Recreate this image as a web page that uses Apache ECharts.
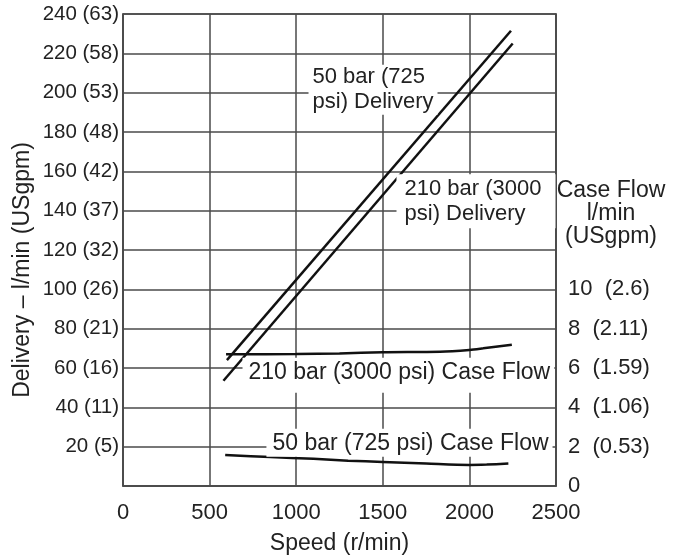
<!DOCTYPE html>
<html>
<head>
<meta charset="utf-8">
<script src="https://cdn.jsdelivr.net/npm/echarts@6/dist/echarts.min.js"></script>
<style>html,body{margin:0;padding:0;background:#fff}#c{width:680px;height:560px}</style>
</head>
<body>
<div id="c"></div>
<script>
// ---- data ----
const speedTicks = [0, 500, 1000, 1500, 2000, 2500];
const leftTickLabels = ['', '20 (5)', '40 (11)', '60 (16)', '80 (21)', '100 (26)', '120 (32)', '140 (37)', '160 (42)', '180 (48)', '200 (53)', '220 (58)', '240 (63)'];
const rightTickLabels = ['0', '2  (0.53)', '4  (1.06)', '6  (1.59)', '8  (2.11)', '10  (2.6)'];

const delivery50Speed = [600, 2240];
const delivery50 = [64, 231.5];
const delivery210Speed = [580, 2250];
const delivery210 = [53.5, 225];

const caseFlow210Speed = [595, 1000, 1250, 1500, 1830, 2000, 2080, 2245];
const caseFlow210 = [6.70, 6.71, 6.74, 6.80, 6.83, 6.92, 7.00, 7.18];
const caseFlow50Speed = [590, 850, 1100, 1300, 1500, 1750, 2000, 2100, 2225];
const caseFlow50 = [1.58, 1.47, 1.38, 1.29, 1.22, 1.14, 1.07, 1.09, 1.14];

const labelTexts = ['50 bar (725\npsi) Delivery', '210 bar (3000\npsi) Delivery', '210 bar (3000 psi) Case Flow', '50 bar (725 psi) Case Flow'];
const leftAxisName = 'Delivery – l/min (USgpm)';
const rightAxisName = 'Case Flow\nl/min\n(USgpm)';
const xAxisName = 'Speed (r/min)';

// ---- chart ----
const FONT = 'Liberation Sans, Arial, sans-serif';
const TXT = '#222';
const GRID = '#4a4a4a';
const zip = (xs, ys) => xs.map((x, i) => [x, ys[i]]);

const chart = echarts.init(document.getElementById('c'), null, {renderer: 'canvas'});

function annot(text, coord, padding, lh, fs) {
  return {
    coord: coord,
    symbol: 'rect', symbolSize: 1,
    itemStyle: {color: 'rgba(0,0,0,0)'},
    label: {
      show: true, position: [0, 0], align: 'left', verticalAlign: 'top',
      formatter: text, fontSize: fs, lineHeight: lh, fontFamily: FONT, color: TXT,
      backgroundColor: '#fff', padding: padding, textBorderWidth: 0
    }
  };
}

const lineStyle = {color: '#111', width: 2.5};

chart.setOption({
  animation: false,
  backgroundColor: '#fff',
  grid: {left: 123, right: 124, top: 14, bottom: 73, show: true, borderColor: GRID, borderWidth: 1.5},
  xAxis: {
    type: 'value', min: 0, max: 2500, interval: 500,
    axisLine: {show: true, onZero: false, lineStyle: {color: GRID, width: 1.5}},
    axisTick: {show: false},
    splitLine: {show: true, lineStyle: {color: GRID, width: 1.5}},
    axisLabel: {fontSize: 22, color: TXT, fontFamily: FONT, margin: 16,
      formatter: v => String(speedTicks[speedTicks.indexOf(v)])},
    name: xAxisName, nameLocation: 'middle', nameGap: 46,
    nameTextStyle: {fontSize: 23, color: TXT, fontFamily: FONT}
  },
  yAxis: [{
    type: 'value', min: 0, max: 240, interval: 20, position: 'left',
    axisLine: {show: true, lineStyle: {color: GRID, width: 1.5}},
    axisTick: {show: false},
    splitLine: {show: true, lineStyle: {color: GRID, width: 1.5}},
    axisLabel: {fontSize: 20.5, color: TXT, fontFamily: FONT, margin: 4,
      formatter: v => leftTickLabels[Math.round(v / 20)]}
  }, {
    type: 'value', min: 0, max: 24, interval: 2, position: 'right',
    axisLine: {show: true, lineStyle: {color: GRID, width: 1.5}},
    axisTick: {show: false},
    splitLine: {show: false},
    axisLabel: {fontSize: 22, color: TXT, fontFamily: FONT, margin: 12,
      formatter: v => (v <= 10 ? rightTickLabels[Math.round(v / 2)] : '')}
  }],
  graphic: [{
    type: 'text', x: 23, y: 270, rotation: Math.PI / 2,
    style: {text: leftAxisName, fontSize: 23, fontFamily: FONT, fill: TXT, align: 'center', verticalAlign: 'middle'}
  }, {
    type: 'text', x: 611, y: 179,
    style: {text: rightAxisName, fontSize: 23, lineHeight: 23, fontFamily: FONT, fill: TXT, align: 'center', verticalAlign: 'top'}
  }],
  series: [{
    type: 'line', name: '50 bar Delivery', data: zip(delivery50Speed, delivery50),
    yAxisIndex: 0, symbol: 'none', lineStyle: lineStyle,
    markPoint: {
      silent: true, animation: false,
      data: [
        annot(labelTexts[0], [1074, 214], [0, 4, 0, 4], 25, 22),
        annot(labelTexts[1], [1582, 158.3], [2, 14, 2, 8], 25, 22),
        annot(labelTexts[2], [693, 64.9], [3, 4, 8, 6], 24, 23),
        annot(labelTexts[3], [831, 28.9], [3, 4, 1, 6], 24, 23)
      ]
    }
  }, {
    type: 'line', name: '210 bar Delivery', data: zip(delivery210Speed, delivery210),
    yAxisIndex: 0, symbol: 'none', lineStyle: lineStyle
  }, {
    type: 'line', name: '210 bar Case Flow', data: zip(caseFlow210Speed, caseFlow210),
    yAxisIndex: 1, symbol: 'none', smooth: 0.3, lineStyle: lineStyle
  }, {
    type: 'line', name: '50 bar Case Flow', data: zip(caseFlow50Speed, caseFlow50),
    yAxisIndex: 1, symbol: 'none', smooth: 0.3, lineStyle: lineStyle
  }]
});
</script>
</body>
</html>
